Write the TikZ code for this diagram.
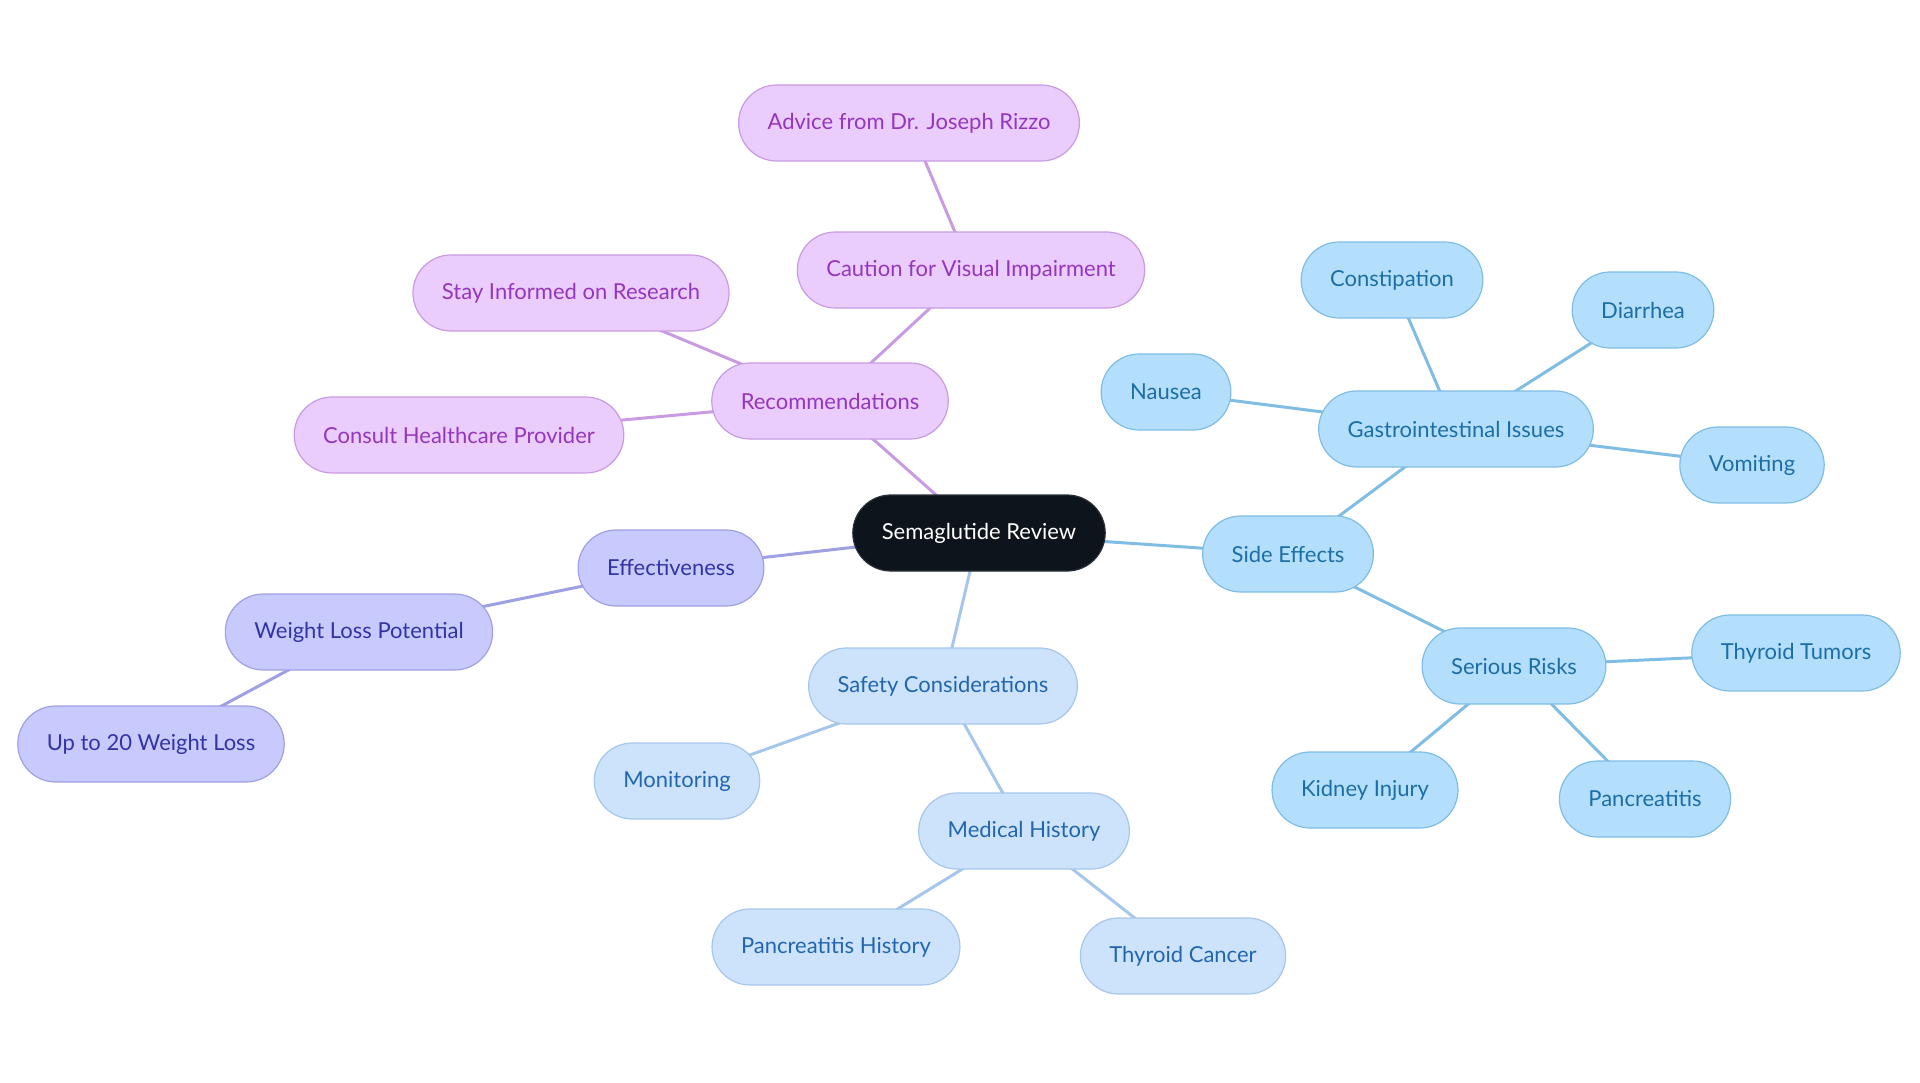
\documentclass[tikz,border=0pt]{standalone}
\usepackage{fontspec}
\setmainfont{Lato}
\usepackage{xcolor}
\usepackage{tikz}
\usetikzlibrary{backgrounds}

\definecolor{rootfill}{HTML}{0E141B}
\definecolor{rootline}{HTML}{2A3038}
\definecolor{recfill}{HTML}{EACCFD}
\definecolor{recline}{HTML}{C89BE3}
\definecolor{rectext}{HTML}{9536BE}
\definecolor{efffill}{HTML}{C8CAFE}
\definecolor{effline}{HTML}{9EA0E4}
\definecolor{efftext}{HTML}{3333A6}
\definecolor{safefill}{HTML}{CDE3FB}
\definecolor{safeline}{HTML}{A6C6EC}
\definecolor{safetext}{HTML}{2266B0}
\definecolor{sidefill}{HTML}{B4DFFC}
\definecolor{sideline}{HTML}{80BDE5}
\definecolor{sidetext}{HTML}{1C6EA6}

\begin{document}
\begin{tikzpicture}[x=1pt,y=-1pt,
    pill/.style={rectangle, rounded corners=38pt, minimum height=76pt, inner xsep=29pt, line width=1.2pt, font=\fontsize{22}{26}\selectfont},
    rootnode/.style={pill, fill=rootfill, draw=rootline, text=white},
    recnode/.style={pill, fill=recfill, draw=recline, text=rectext},
    effnode/.style={pill, fill=efffill, draw=effline, text=efftext},
    safenode/.style={pill, fill=safefill, draw=safeline, text=safetext},
    sidenode/.style={pill, fill=sidefill, draw=sideline, text=sidetext},
    reclink/.style={line width=3pt, draw=recline},
    efflink/.style={line width=3pt, draw=effline},
    safelink/.style={line width=3pt, draw=safeline},
    sidelink/.style={line width=3pt, draw=sideline}]
    \useasboundingbox (0,0) rectangle (1920,1083);

    % Root
    \node[rootnode] (root) at (979,533) {Semaglutide Review};

    % Recommendations branch
    \node[recnode] (rec) at (830,401) {Recommendations};
    \node[recnode] (caution) at (971,270) {Caution for Visual Impairment};
    \node[recnode] (advice) at (909,123) {Advice from Dr. Joseph Rizzo};
    \node[recnode] (informed) at (571,293) {Stay Informed on Research};
    \node[recnode] (consult) at (459,435) {Consult Healthcare Provider};

    % Effectiveness branch
    \node[effnode] (eff) at (671,568) {Effectiveness};
    \node[effnode] (potential) at (359,632) {Weight Loss Potential};
    \node[effnode] (upto) at (151,744) {Up to 20 Weight Loss};

    % Safety branch
    \node[safenode] (safety) at (943,686) {Safety Considerations};
    \node[safenode] (monitor) at (677,781) {Monitoring};
    \node[safenode] (history) at (1024,831) {Medical History};
    \node[safenode] (panchist) at (836,947) {Pancreatitis History};
    \node[safenode] (thycancer) at (1183,956) {Thyroid Cancer};

    % Side effects branch
    \node[sidenode] (side) at (1288,554) {Side Effects};
    \node[sidenode] (gi) at (1456,429) {Gastrointestinal Issues};
    \node[sidenode] (nausea) at (1166,392) {Nausea};
    \node[sidenode] (constip) at (1392,280) {Constipation};
    \node[sidenode] (diarrhea) at (1643,310) {Diarrhea};
    \node[sidenode] (vomit) at (1752,465) {Vomiting};
    \node[sidenode] (serious) at (1514,666) {Serious Risks};
    \node[sidenode] (tumors) at (1796,653) {Thyroid Tumors};
    \node[sidenode] (kidney) at (1365,790) {Kidney Injury};
    \node[sidenode] (pancreat) at (1645,799) {Pancreatitis};

    % Links (behind the nodes)
    \begin{scope}[on background layer]
        \draw[reclink] (root.center) -- (rec.center);
        \draw[reclink] (rec.center) -- (caution.center);
        \draw[reclink] (caution.center) -- (advice.center);
        \draw[reclink] (rec.center) -- (informed.center);
        \draw[reclink] (rec.center) -- (consult.center);
        \draw[efflink] (root.center) -- (eff.center);
        \draw[efflink] (eff.center) -- (potential.center);
        \draw[efflink] (potential.center) -- (upto.center);
        \draw[safelink] (root.center) -- (safety.center);
        \draw[safelink] (safety.center) -- (monitor.center);
        \draw[safelink] (safety.center) -- (history.center);
        \draw[safelink] (history.center) -- (panchist.center);
        \draw[safelink] (history.center) -- (thycancer.center);
        \draw[sidelink] (root.center) -- (side.center);
        \draw[sidelink] (side.center) -- (gi.center);
        \draw[sidelink] (gi.center) -- (nausea.center);
        \draw[sidelink] (gi.center) -- (constip.center);
        \draw[sidelink] (gi.center) -- (diarrhea.center);
        \draw[sidelink] (gi.center) -- (vomit.center);
        \draw[sidelink] (side.center) -- (serious.center);
        \draw[sidelink] (serious.center) -- (tumors.center);
        \draw[sidelink] (serious.center) -- (kidney.center);
        \draw[sidelink] (serious.center) -- (pancreat.center);
    \end{scope}
\end{tikzpicture}
\end{document}
